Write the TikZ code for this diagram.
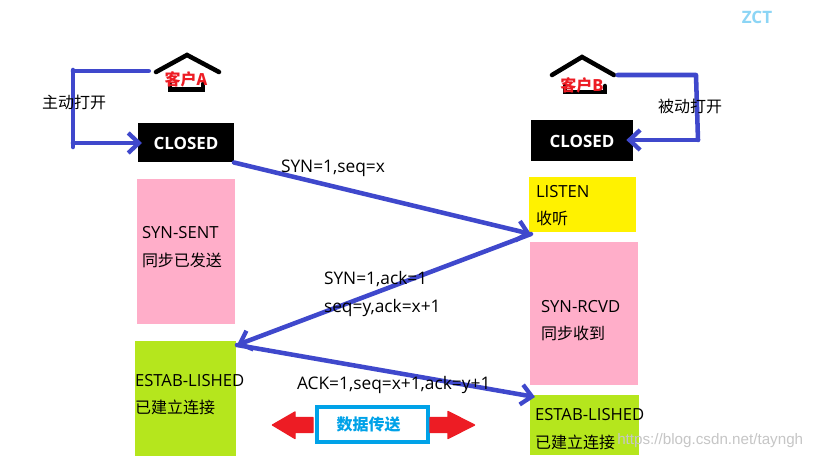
\documentclass[tikz,border=0pt]{standalone}
\usepackage{fontspec}
\setmainfont{Open Sans}
\newfontfamily\cjk{Noto Sans CJK SC}
\newfontfamily\wmfont{Liberation Sans}
\usetikzlibrary{arrows.meta,calc}
\definecolor{arrowblue}{HTML}{3F48CC}
\definecolor{boxpink}{HTML}{FFAEC9}
\definecolor{boxyellow}{HTML}{FFF200}
\definecolor{boxgreen}{HTML}{B5E61D}
\definecolor{paintred}{HTML}{ED1C24}
\definecolor{paintcyan}{HTML}{00A2E8}
\tikzset{
  x=0.75pt,y=-0.75pt,
  statebox/.style={anchor=north west,inner sep=0pt,outer sep=0pt,draw=none},
  closedbox/.style={statebox,fill=black,text=white,font=\fontsize{12.7pt}{14pt}\selectfont\bfseries,anchor=center},
  lbl/.style={anchor=west,inner sep=0pt,outer sep=0pt,font=\fontsize{12.5pt}{14pt}\selectfont},
  msg/.style={lbl,font=\fontsize{13pt}{15pt}\selectfont},
  zh/.style={anchor=west,inner sep=0pt,outer sep=0pt,font=\cjk\fontsize{12pt}{14pt}\selectfont},
  client/.style={inner sep=0pt,outer sep=0pt,text=paintred,font=\cjk\fontsize{12pt}{14pt}\selectfont\bfseries},
  flow/.style={draw=arrowblue,line width=3.4pt,line cap=round,line join=round},
  flowtip/.style={flow,-{Straight Barb[length=8pt,width=15pt,line width=3.2pt]}},
  house/.style={draw=black,line width=3.4pt,line cap=round,line join=miter},
  bigarrow/.style={fill=paintred,draw=paintred,line width=1pt,line join=round},
}
\begin{document}
\begin{tikzpicture}
\useasboundingbox (0,0) rectangle (819,460);
\fill[white] (0,0) rectangle (819,460);

% state boxes
\node[closedbox,minimum width=72pt,minimum height=29.25pt] (closedA) at (186,143) {\raisebox{-1.5pt}{CLOSED}};
\node[closedbox,minimum width=76.5pt,minimum height=30.75pt] (closedB) at (582,141) {CLOSED};
\node[statebox,fill=boxpink,minimum width=73.5pt,minimum height=108.75pt] (sent) at (137,179) {};
\node[statebox,fill=boxyellow,minimum width=80.25pt,minimum height=41.25pt] (listen) at (529,177) {};
\node[statebox,fill=boxpink,minimum width=81pt,minimum height=107.25pt] (rcvd) at (530,242) {};
\node[statebox,fill=boxgreen,minimum width=75.75pt,minimum height=86.25pt] (estabA) at (135,341) {};
\node[statebox,fill=boxgreen,minimum width=81.75pt,minimum height=45pt] (estabB) at (530,395) {};

% houses
\draw[house] (156,72) -- (187,55) -- (219,72);
\draw[house] (170,84) -- (170,89.5) -- (203,89.5) -- (203,84);
\draw[house] (552,75) -- (582,57) -- (614,75);
\draw[house] (565,86) -- (565,92) -- (605,92) -- (605,86);
\node[client] (clientA) at (186,79) {客户A};
\node[client] (clientB) at (582,85) {客户B};

% loops
\coordinate (aTop) at (73,71);
\coordinate (aBot) at (73,143);
\coordinate (bTop) at (696,75);
\coordinate (bBot) at (698,140);
\draw[flow] (clientA.west |- aTop) ++(-16,0) -- (aTop);
\draw[flow] (73,70) -- (73,147);
\draw[flowtip] (aBot) -- ([xshift=3]closedA.west |- aBot);
\draw[flow] (clientB.east |- bTop) ++(14,0) -- (bTop) -- (bBot);
\draw[flowtip] (bBot) -- ([xshift=-5]closedB.east |- bBot);

% exchange arrows
\draw[flowtip] (closedA.south east) -- ([shift={(2,2)}]listen.south west);
\draw[flowtip] ([shift={(2,2)}]listen.south west) -- ([shift={(1,4)}]estabA.north east);
\draw[flowtip] ([shift={(1,4)}]estabA.north east) -- ([shift={(5,2)}]estabB.north west);

% labels
\node[zh] (zhuA) at (42,102) {主动打开};
\node[zh] (beiB) at (658,106) {被动打开};
\node[msg] (m1) at (281,168.5) {SYN=1,seq=x};
\node[msg] (m2) at (324,279.5) {SYN=1,ack=1};
\node[msg] (m3) at (324,307.5) {seq=y,ack=x+1};
\node[msg] (m4) at (297,384.5) {ACK=1,seq=x+1,ack=y+1};
\node[lbl] (s1) at (142,232.5) {SYN-SENT};
\node[zh] (s1z) at (142,260) {同步已发送};
\node[lbl] (s2) at (536,191.5) {LISTEN};
\node[zh] (s2z) at (536,218) {收听};
\node[lbl] (s3) at (541,306.5) {SYN-RCVD};
\node[zh] (s3z) at (541,333) {同步收到};
\node[lbl] (s4) at (135,380.5) {ESTAB-LISHED};
\node[zh] (s4z) at (135,407) {已建立连接};
\node[lbl] (s5) at (535,414.5) {ESTAB-LISHED};
\node[zh] (s5z) at (535,442) {已建立连接};

% data transfer
\node[draw=paintcyan,line width=3.2pt,fill=white,inner sep=0pt,minimum width=83pt,minimum height=26pt,text=paintcyan,font=\cjk\fontsize{12pt}{14pt}\selectfont\bfseries] (data) at (372.5,424.5) {\hspace*{-6pt}数据传送};
\filldraw[bigarrow] (313,417.5) -- (295,417.5) -- (295,412) -- (272.5,425) -- (295,438.5) -- (295,432.5) -- (313,432.5) -- cycle;
\filldraw[bigarrow] (430,417.5) -- (448,417.5) -- (448,411.5) -- (474.5,425) -- (448,438.5) -- (448,432.5) -- (430,432.5) -- cycle;

% marks
\node[inner sep=0pt,text=paintcyan!45,font=\fontsize{12.8pt}{14pt}\selectfont\bfseries] (zct) at (757,17) {ZCT};
\node[anchor=west,inner sep=0pt,text=gray!45,font=\wmfont\fontsize{11.4pt}{13pt}\selectfont] (wm) at (617,441) {https://blog.csdn.net/tayngh};
\end{tikzpicture}
\end{document}
